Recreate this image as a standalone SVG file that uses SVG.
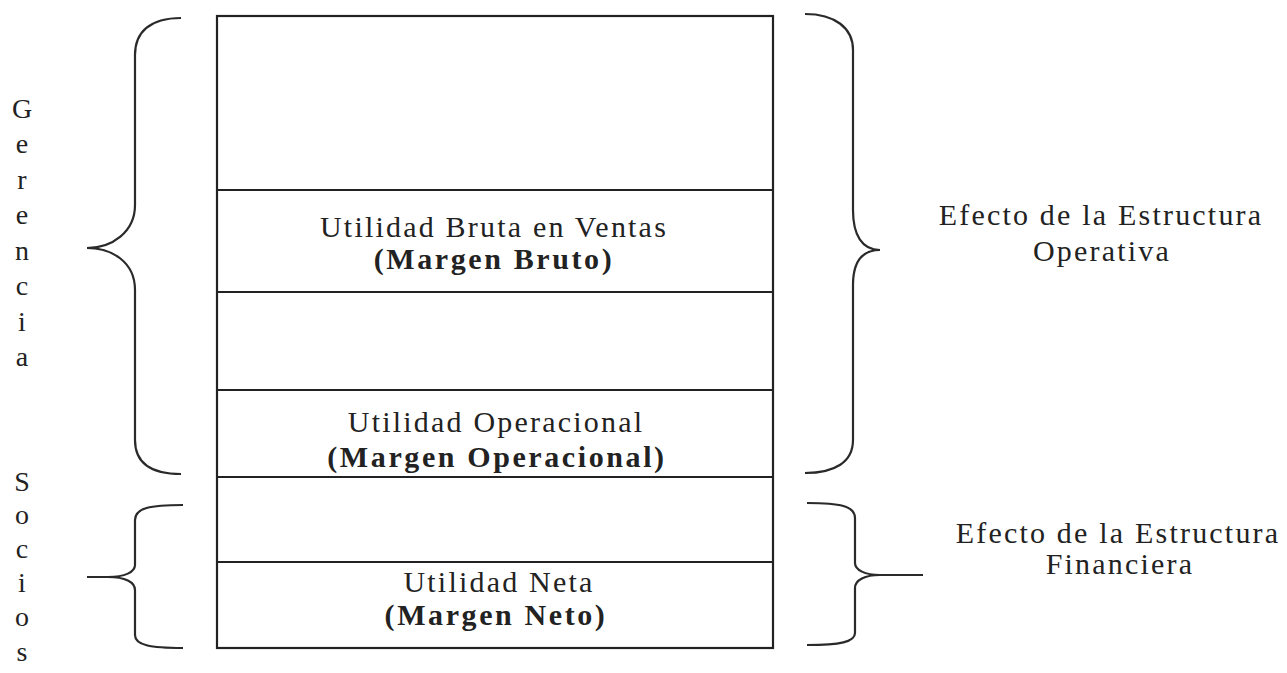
<svg xmlns="http://www.w3.org/2000/svg" width="1287" height="673" viewBox="0 0 1287 673">
<style>
.t{font-family:"Liberation Serif","Times New Roman",serif;font-size:30px;fill:#222;letter-spacing:2.2px;text-anchor:middle}
.b{font-weight:bold;letter-spacing:2.6px}
.v{font-family:"Liberation Serif","Times New Roman",serif;font-size:28px;fill:#222;text-anchor:middle}
.ln{stroke:#222;stroke-width:2.2;fill:none}
.br{stroke:#2a2a2a;stroke-width:2.2;fill:none}
</style>
<rect width="1287" height="673" fill="#fff"/>
<g id="table">
<rect class="ln" x="217" y="16" width="556" height="632"/>
<line class="ln" x1="217" y1="190" x2="773" y2="190"/>
<line class="ln" x1="217" y1="292" x2="773" y2="292"/>
<line class="ln" x1="217" y1="390" x2="773" y2="390"/>
<line class="ln" x1="217" y1="477" x2="773" y2="477"/>
<line class="ln" x1="217" y1="562" x2="773" y2="562"/>
</g>
<g id="bruta">
<text class="t" x="494" y="237">Utilidad Bruta en Ventas</text>
<text class="t b" x="494" y="269">(Margen Bruto)</text>
</g>
<g id="operacional">
<text class="t" x="496" y="432">Utilidad Operacional</text>
<text class="t b" x="497" y="467">(Margen Operacional)</text>
</g>
<g id="neta">
<text class="t" x="499" y="592">Utilidad Neta</text>
<text class="t b" x="496" y="625">(Margen Neto)</text>
</g>
<g id="braces">
<path class="br" d="M181,18 C150,18 135,32 135,55 L135,205 C135,232 112,248 87,248 C112,248 135,262 135,290 L135,440 C135,462 150,474 181,474"/>
<path class="br" d="M805,14 C835,14 853,28 853,50 L853,210 C853,235 862,250 880,250 C862,250 853,262 853,285 L853,440 C853,462 835,473 805,473"/>
<path class="br" d="M183,505 C150,505 135,508 135,520 L135,565 C135,572 125,577 108,577 L87,577 M108,577 C125,577 135,582 135,590 L135,635 C135,645 150,648 183,648"/>
<path class="br" d="M807,503 C840,503 855,506 855,518 L855,563 C855,570 865,575 880,575 L923,575 M880,575 C865,575 855,580 855,588 L855,633 C855,642 840,645 807,645"/>
</g>
<g id="gerencia">
<text class="v" x="22" y="118">G</text>
<text class="v" x="22" y="153">e</text>
<text class="v" x="22" y="189">r</text>
<text class="v" x="22" y="224">e</text>
<text class="v" x="22" y="260">n</text>
<text class="v" x="22" y="295">c</text>
<text class="v" x="22" y="331">i</text>
<text class="v" x="22" y="366">a</text>
</g>
<g id="socios">
<text class="v" x="22" y="491">S</text>
<text class="v" x="22" y="524">o</text>
<text class="v" x="22" y="558">c</text>
<text class="v" x="22" y="592">i</text>
<text class="v" x="22" y="626">o</text>
<text class="v" x="22" y="661">s</text>
</g>
<g id="operativa">
<text class="t" x="1101" y="225">Efecto de la Estructura</text>
<text class="t" x="1102" y="261">Operativa</text>
</g>
<g id="financiera">
<text class="t" x="1118" y="543">Efecto de la Estructura</text>
<text class="t" x="1120" y="574">Financiera</text>
</g>
</svg>
